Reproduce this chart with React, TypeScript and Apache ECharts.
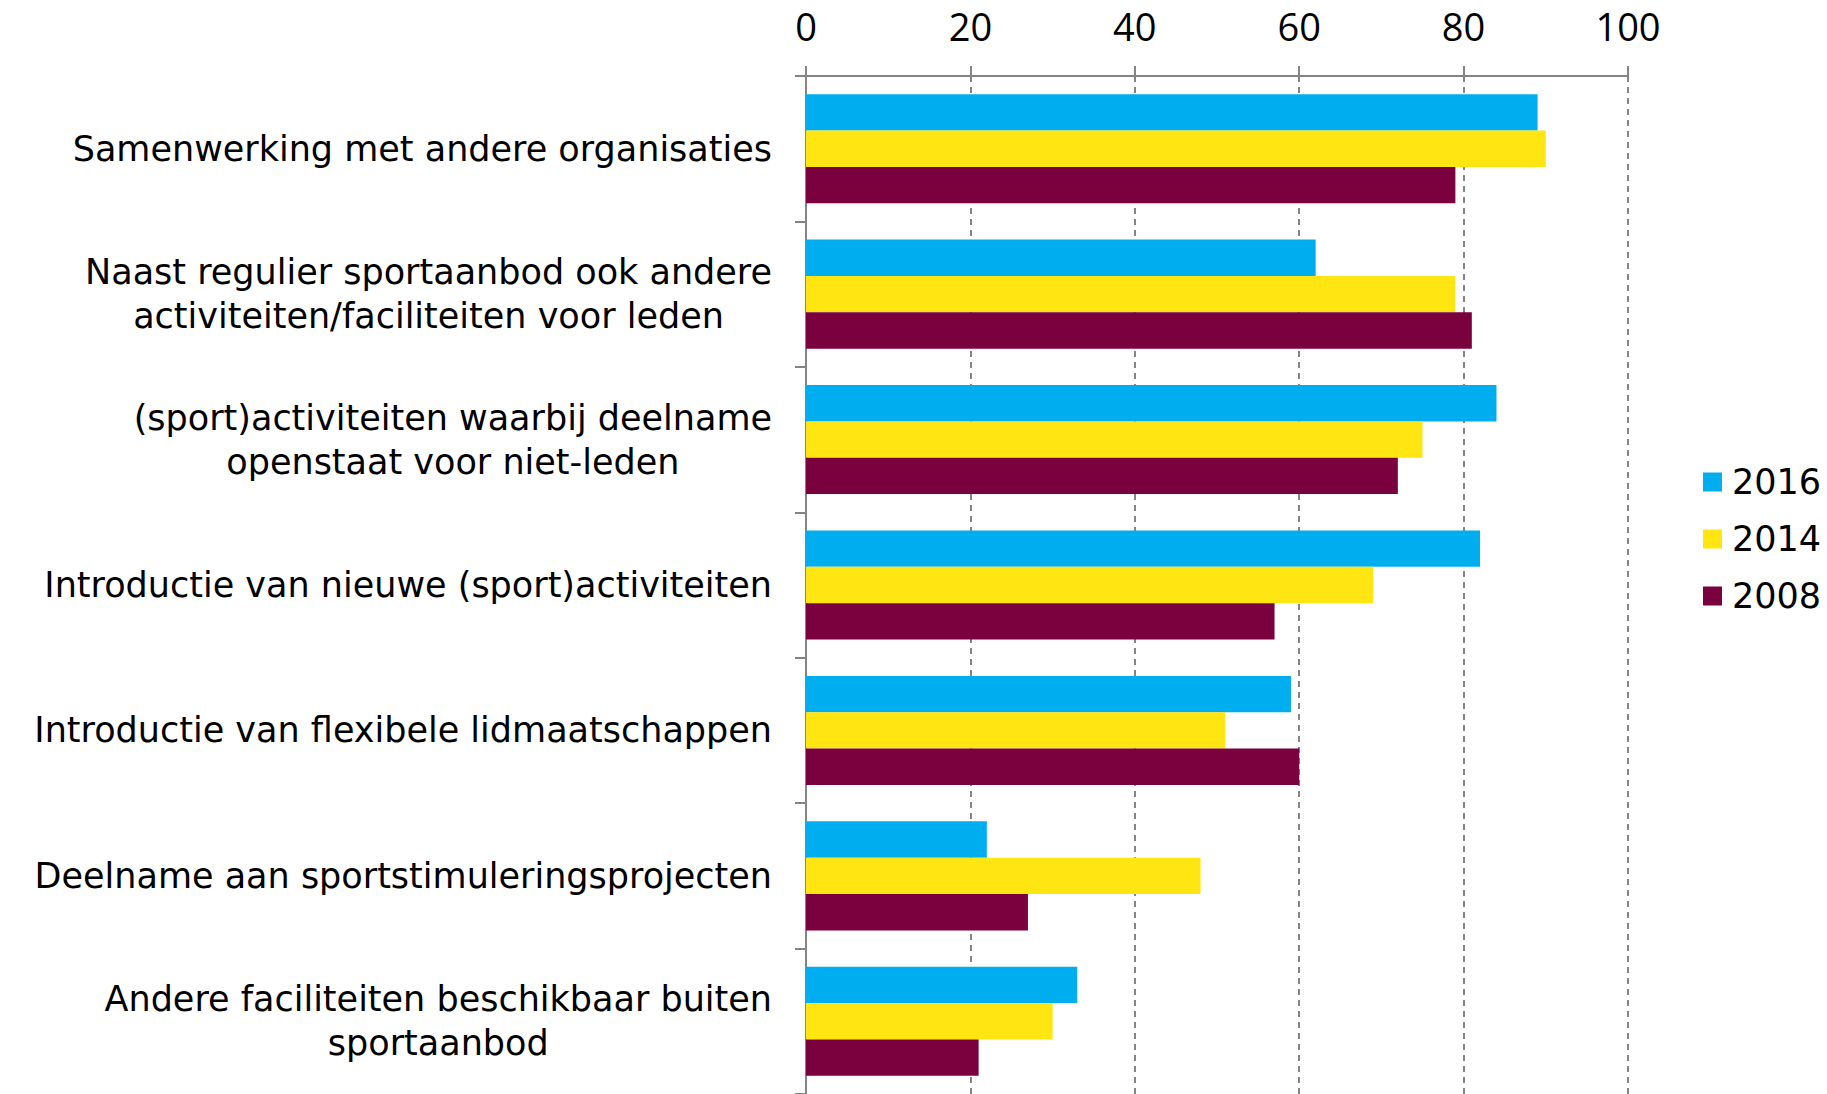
import React, { useEffect, useRef } from "react";
import * as echarts from "echarts";

const categories = [
  "Samenwerking met andere organisaties",
  "Naast regulier sportaanbod ook andere\nactiviteiten/faciliteiten voor leden",
  "(sport)activiteiten waarbij deelname\nopenstaat voor niet-leden",
  "Introductie van nieuwe (sport)activiteiten",
  "Introductie van flexibele lidmaatschappen",
  "Deelname aan sportstimuleringsprojecten",
  "Andere faciliteiten beschikbaar buiten\nsportaanbod",
];

const values2016 = [89, 62, 84, 82, 59, 22, 33];
const values2014 = [90, 79, 75, 69, 51, 48, 30];
const values2008 = [79, 81, 72, 57, 60, 27, 21];

const seriesNames = ["2016", "2014", "2008"];
const colors = ["#00AEEF", "#FFE512", "#7A003E"];

const FONT = "'Open Sans', 'Noto Sans', sans-serif";
const LABEL_FONT = "'DejaVu Sans', sans-serif";

export default function App() {
  const ref = useRef<HTMLDivElement>(null);
  useEffect(() => {
    document.body.style.margin = "0";
    if (!ref.current) return;
    const chart = echarts.init(ref.current, null, { renderer: "svg" });
    const gray = "#858585";
    const data = [values2016, values2014, values2008];
    chart.setOption({
      animation: false,
      backgroundColor: "#ffffff",
      color: colors,
      grid: { left: 806, right: 199, top: 76, bottom: -3, containLabel: false },
      legend: {
        orient: "vertical",
        left: 1698,
        top: 457,
        icon: "rect",
        itemWidth: 19,
        itemHeight: 19,
        itemGap: 17,
        data: seriesNames,
        textStyle: {
          fontFamily: LABEL_FONT,
          fontSize: 35,
          lineHeight: 40,
          color: "#000",
          padding: [0, 0, 0, 5],
        },
      },
      xAxis: {
        type: "value",
        position: "top",
        min: 0,
        max: 100,
        interval: 20,
        axisLine: { show: true, lineStyle: { color: gray, width: 2 } },
        axisTick: { show: true, length: 10, lineStyle: { color: gray, width: 2 } },
        axisLabel: {
          margin: 30,
          fontFamily: FONT,
          fontSize: 38,
          lineHeight: 40,
          color: "#000",
        },
        splitLine: {
          show: true,
          lineStyle: { color: gray, width: 2, type: [6, 5] },
        },
      },
      yAxis: {
        type: "category",
        inverse: true,
        data: categories,
        axisLine: { show: true, lineStyle: { color: gray, width: 2 } },
        axisTick: { show: true, length: 11, lineStyle: { color: gray, width: 2 } },
        axisLabel: {
          margin: 34,
          align: "right",
          formatter: (v: string) =>
            v
              .split("\n")
              .map((l) => `{c|${l}}`)
              .join("\n"),
          rich: {
            c: {
              align: "center",
              fontFamily: LABEL_FONT,
              fontSize: 35,
              lineHeight: 44,
              color: "#000",
            },
          },
        },
      },
      series: seriesNames.map((name, i) => ({
        name,
        type: "bar",
        data: data[i],
        barGap: "0%",
        barCategoryGap: "25%",
        itemStyle: { color: colors[i] },
      })),
    });
    return () => chart.dispose();
  }, []);
  return <div ref={ref} style={{ width: 1827, height: 1094 }} />;
}
